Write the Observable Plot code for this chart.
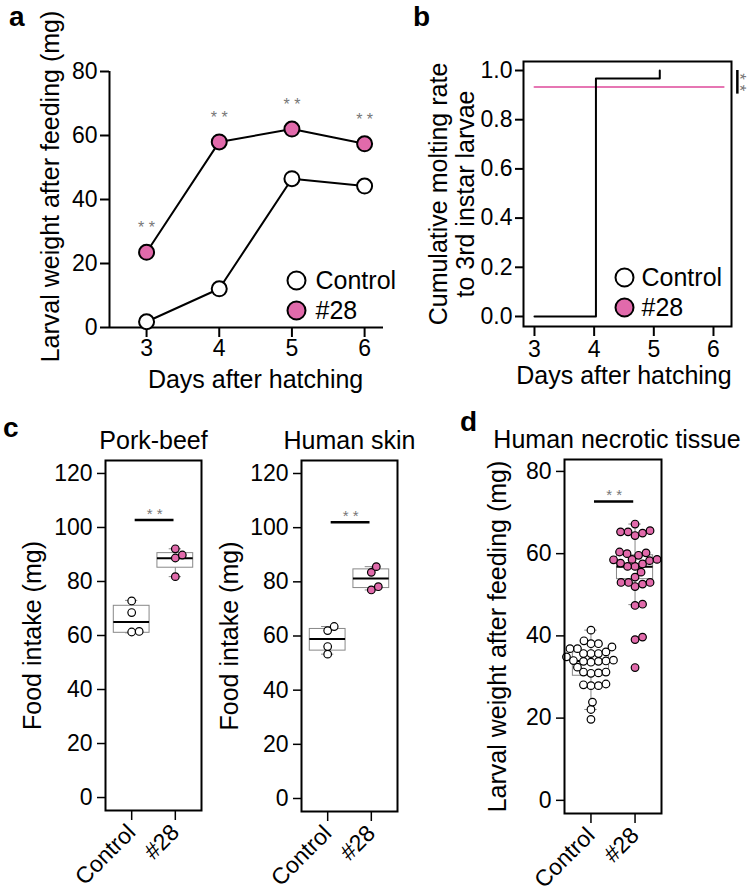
<!DOCTYPE html>
<html><head><meta charset="utf-8">
<script src="https://cdn.jsdelivr.net/npm/d3@7"></script>
<script src="https://cdn.jsdelivr.net/npm/@observablehq/plot@0.6"></script>
<style>
body{margin:0;background:#fff;}
#fig{position:relative;width:749px;height:894px;font-family:"Liberation Sans",Arial,sans-serif;overflow:hidden;}
#fig svg{position:absolute;overflow:visible;}
.lab{position:absolute;font-weight:bold;font-size:28px;line-height:1;}
</style></head><body><div id="fig">
<div class="lab" style="left:9px;top:3px">a</div>
<div class="lab" style="left:413px;top:3px">b</div>
<div class="lab" style="left:3px;top:414px">c</div>
<div class="lab" style="left:460px;top:408px">d</div>
</div>
<script>
// ---------- data ----------
const days = [3, 4, 5, 6];
const weightControl = [1.8, 12.1, 46.5, 44.2];
const weight28 = [23.5, 58.0, 62.0, 57.4];
const sigLabel = "* *";

const moltDaysControl = [3, 4.03, 5.1];
const moltRateControl = [0, 0.967, 1.0];
const moltDays28 = [3, 6.17];
const moltRate28 = [0.933, 0.933];
const moltSig = {x: 6.40, y1: 1.0, y2: 0.904};

const groups = ["Control", "#28"];
const porkControl = [72.8, 68.5, 61.5, 61.3];
const pork28 = [92.1, 89.8, 88.7, 81.8];
const skinControl = [63.5, 62.0, 56.1, 53.3];
const skin28 = [85.6, 83.5, 78.2, 77.0];
const necroControl = [41.4, 38.8, 38.1, 38.1, 37.3, 36.9, 36.9, 36.1, 35.7, 35.7, 35.7, 34.9, 34.1, 33.9, 33.8, 34.0, 33.6, 33.8, 32.4, 31.2, 31.0, 30.9, 31.2, 28.3, 27.9, 27.9, 28.1, 23.9, 22.1, 19.7];
const necro28 = [67.2, 65.6, 65.3, 65.3, 65.0, 64.4, 60.4, 60.2, 60.0, 59.6, 58.6, 58.6, 58.5, 58.3, 57.7, 57.5, 56.9, 56.9, 55.5, 54.3, 53.0, 53.0, 53.0, 52.6, 52.0, 47.7, 47.4, 39.7, 39.1, 32.3];
// box stats: [lower whisker, Q1, median, Q3, upper whisker]
const boxPork = [[61.0, 61.0, 65.0, 71.0, 73.0], [81.8, 85.1, 88.6, 90.5, 92.1]];
const boxSkin = [[53.3, 54.6, 58.9, 62.6, 63.5], [77.0, 77.7, 81.2, 84.6, 85.6]];
const boxNecro = [[22.1, 30.3, 33.9, 36.0, 41.4], [47.6, 53.8, 56.8, 59.6, 67.2]];
const sigBarY = [102.8, 102.0, 72.7];
const sigBarX = [0.08, 0.97];
const foodTicks = [0, 20, 40, 60, 80, 100, 120];
const necroTicks = [0, 20, 40, 60, 80];

// ---------- style ----------
const pink = "#e16aab";
const pinkLine = "#e676b3";
const starGray = "#777";
const FONT = "'Liberation Sans', Arial, Helvetica, sans-serif";
const TITLE = 25;
const fig = document.getElementById("fig");

function panel(region, frame, opts) {
  const svg = Plot.plot({
    width: region.w, height: region.h,
    marginLeft: frame.l - region.x, marginRight: region.x + region.w - frame.r,
    marginTop: frame.t - region.y, marginBottom: region.y + region.h - frame.b,
    style: {fontFamily: FONT, fontSize: "23px", background: "transparent", color: "black", overflow: "visible"},
    ...opts
  });
  svg.style.position = "absolute";
  svg.style.left = region.x + "px";
  svg.style.top = region.y + "px";
  fig.appendChild(svg);
  return svg;
}

// ---------- panel a ----------
{
  const xDom = [2.49, 6.26], yDom = [0, 80];
  const rows = [
    ...days.map((d, i) => ({s: "Control", day: d, w: weightControl[i]})),
    ...days.map((d, i) => ({s: "#28", day: d, w: weight28[i]}))
  ];
  const legend = [{label: "Control", fill: "white"}, {label: "#28", fill: pink}];
  panel({x: 0, y: 0, w: 392, h: 400}, {l: 109, r: 383, t: 71, b: 327}, {
    x: {domain: xDom}, y: {domain: yDom},
    marks: [
      Plot.ruleY([yDom[0]], {x1: xDom[0], x2: xDom[1], strokeWidth: 2}),
      Plot.ruleX([xDom[0]], {y1: yDom[0], y2: yDom[1], strokeWidth: 2}),
      Plot.axisX({ticks: days, tickFormat: d3.format("d"), tickSize: 10, tickPadding: 2, strokeWidth: 2, label: null}),
      Plot.axisY({ticks: [0, 20, 40, 60, 80], tickFormat: d3.format("d"), tickSize: 9, tickPadding: 3, strokeWidth: 2, label: null}),
      Plot.line(rows, {x: "day", y: "w", z: "s", stroke: "black", strokeWidth: 2}),
      Plot.dot(rows.filter(d => d.s === "Control"), {x: "day", y: "w", r: 7.5, fill: "white", stroke: "black", strokeWidth: 2}),
      Plot.dot(rows.filter(d => d.s === "#28"), {x: "day", y: "w", r: 7.5, fill: pink, stroke: "black", strokeWidth: 2}),
      Plot.text(rows.filter(d => d.s === "#28"), {x: "day", y: "w", text: () => sigLabel, dy: -24, fill: starGray, fontSize: 16}),
      Plot.text(["Days after hatching"], {x: d3.mean(days), frameAnchor: "bottom", dy: 60, lineAnchor: "bottom", text: d => d, fontSize: TITLE}),
      Plot.text(["Larval weight after feeding (mg)"], {y: d3.mean(yDom), frameAnchor: "left", textAnchor: "middle", rotate: -90, lineAnchor: "bottom", dx: -51, dy: -13, text: d => d, fontSize: TITLE}),
      ...legend.map((d, i) => Plot.dot([d], {frameAnchor: "bottom-right", dx: -87, dy: -47 + 30 * i, r: 9, fill: d.fill, stroke: "black", strokeWidth: 2})),
      ...legend.map((d, i) => Plot.text([d.label], {frameAnchor: "bottom-right", dx: -68, dy: -47 + 30 * i, textAnchor: "start", lineAnchor: "middle", text: t => t, fontSize: TITLE}))
    ]
  });
}

// ---------- panel b ----------
{
  const xDom = [2.816, 6.302], yDom = [-0.0407, 1.0366];
  const ctrl = moltDaysControl.map((d, i) => ({day: d, rate: moltRateControl[i]}));
  const p28 = moltDays28.map((d, i) => ({day: d, rate: moltRate28[i]}));
  const legend = [{label: "Control", fill: "white"}, {label: "#28", fill: pink}];
  panel({x: 392, y: 0, w: 357, h: 400}, {l: 523, r: 731, t: 61, b: 326}, {
    x: {domain: xDom}, y: {domain: yDom},
    marks: [
      Plot.frame({strokeWidth: 2}),
      Plot.axisX({ticks: days, tickFormat: d3.format("d"), tickSize: 10, tickPadding: 4, strokeWidth: 2, label: null}),
      Plot.axisY({ticks: [0, 0.2, 0.4, 0.6, 0.8, 1.0], tickFormat: d3.format(".1f"), tickSize: 8, tickPadding: 3, strokeWidth: 2, label: null}),
      Plot.line(p28, {x: "day", y: "rate", stroke: pinkLine, strokeWidth: 2}),
      Plot.line(ctrl, {x: "day", y: "rate", curve: "step-after", stroke: "black", strokeWidth: 2}),
      Plot.ruleX([moltSig], {x: "x", y1: "y1", y2: "y2", strokeWidth: 2.5}),
      Plot.text([moltSig], {x: "x", y: d => (d.y1 + d.y2) / 2, text: () => sigLabel, rotate: 90, dx: 2, fill: starGray, fontSize: 17}),
      Plot.text(["Days after hatching"], {x: d3.mean(days), frameAnchor: "bottom", dy: 57, lineAnchor: "bottom", text: d => d, fontSize: TITLE}),
      Plot.text(["Cumulative molting rate\nto 3rd instar larvae"], {frameAnchor: "left", textAnchor: "middle", rotate: -90, lineAnchor: "bottom", lineHeight: 1.05, dx: -50, text: d => d, fontSize: TITLE}),
      ...legend.map((d, i) => Plot.dot([d], {frameAnchor: "bottom-right", dx: -107, dy: -49 + 30 * i, r: 9, fill: d.fill, stroke: "black", strokeWidth: 2})),
      ...legend.map((d, i) => Plot.text([d.label], {frameAnchor: "bottom-right", dx: -90, dy: -49 + 30 * i, textAnchor: "start", lineAnchor: "middle", text: t => t, fontSize: TITLE}))
    ]
  });
}

// ---------- beeswarm layout (like a dodge transform) ----------
function swarm(values, gi, pxY, pxX, minDist) {
  const order = d3.range(values.length).sort((a, b) => values[a] - values[b]);
  const placed = [];
  const out = [];
  for (const i of order) {
    const y = values[i] * pxY;
    let off = 0;
    for (let k = 0; k < 1000; k++) {
      const o = k === 0 ? 0 : (k % 2 === 1 ? 1 : -1) * Math.ceil(k / 2) * 0.5;
      if (placed.every(p => (p.x - o) ** 2 + (p.y - y) ** 2 >= minDist * minDist)) { off = o; break; }
    }
    placed.push({x: off, y});
    out.push({g: groups[gi], i: gi, v: values[i], x: gi + off / pxX});
  }
  return out;
}

function boxPanel(region, frame, yDom, yTicks, ctrlVals, vals28, boxes, sigY, title, ylabel, labelDx, titleDx) {
  const xDom = [-0.6, 1.6];
  const pxY = (frame.b - frame.t) / (yDom[1] - yDom[0]);
  const pxX = (frame.r - frame.l) / (xDom[1] - xDom[0]);
  const pts = [...swarm(ctrlVals, 0, pxY, pxX, 7.5), ...swarm(vals28, 1, pxY, pxX, 7.5)];
  const bx = boxes.map((b, i) => ({i, lo: b[0], q1: b[1], med: b[2], q3: b[3], hi: b[4]}));
  const bh = 0.41, ch = 0.14;
  panel(region, frame, {
    x: {domain: xDom}, y: {domain: yDom},
    marks: [
      Plot.axisX({ticks: [0, 1], tickFormat: i => groups[i], tickRotate: -45, tickSize: 10, tickPadding: 8, strokeWidth: 1.5, label: null}),
      Plot.axisY({ticks: yTicks, tickFormat: d3.format("d"), tickSize: 8, tickPadding: 5, strokeWidth: 1.5, label: null}),
      Plot.ruleX(bx, {x: "i", y1: "lo", y2: "q1", stroke: "#888", strokeWidth: 1}),
      Plot.ruleX(bx, {x: "i", y1: "q3", y2: "hi", stroke: "#888", strokeWidth: 1}),
      Plot.ruleY(bx, {y: "lo", x1: d => d.i - ch, x2: d => d.i + ch, stroke: "#888", strokeWidth: 1}),
      Plot.ruleY(bx, {y: "hi", x1: d => d.i - ch, x2: d => d.i + ch, stroke: "#888", strokeWidth: 1}),
      Plot.rect(bx, {x1: d => d.i - bh, x2: d => d.i + bh, y1: "q1", y2: "q3", fill: "white", stroke: "#888", strokeWidth: 1}),
      Plot.ruleY(bx, {y: "med", x1: d => d.i - bh, x2: d => d.i + bh, stroke: "black", strokeWidth: 2}),
      Plot.dot(pts.filter(d => d.i === 0), {x: "x", y: "v", r: 3.8, fill: "white", stroke: "black", strokeWidth: 1.2}),
      Plot.dot(pts.filter(d => d.i === 1), {x: "x", y: "v", r: 3.8, fill: pink, stroke: "black", strokeWidth: 1.2}),
      Plot.ruleY([sigY], {x1: sigBarX[0], x2: sigBarX[1], stroke: "black", strokeWidth: 2.5}),
      Plot.text([sigY], {x: d3.mean(sigBarX), y: d => d, text: () => sigLabel, dy: -6, fill: starGray, fontSize: 15}),
      Plot.frame({strokeWidth: 2}),
      Plot.text([title], {frameAnchor: "top", dy: -12, dx: titleDx, lineAnchor: "bottom", text: d => d, fontSize: TITLE}),
      Plot.text([ylabel], {frameAnchor: "left", textAnchor: "middle", rotate: -90, lineAnchor: "bottom", dx: labelDx, text: d => d, fontSize: TITLE})
    ]
  });
}

// ---------- panel c ----------
boxPanel({x: 0, y: 420, w: 215, h: 474}, {l: 105, r: 201, t: 460, b: 810}, [-4.8, 124.8], foodTicks,
  porkControl, pork28, boxPork, sigBarY[0], "Pork-beef", "Food intake (mg)", -65, 0);
boxPanel({x: 215, y: 420, w: 200, h: 474}, {l: 301, r: 397, t: 460, b: 811}, [-4.8, 124.8], foodTicks,
  skinControl, skin28, boxSkin, sigBarY[1], "Human skin", "Food intake (mg)", -64, 0);

// ---------- panel d ----------
boxPanel({x: 445, y: 420, w: 304, h: 474}, {l: 564, r: 661, t: 459, b: 813}, [-3.2, 82.9], necroTicks,
  necroControl, necro28, boxNecro, sigBarY[2], "Human necrotic tissue", "Larval weight after feeding (mg)", -59, 4);
</script></body></html>
